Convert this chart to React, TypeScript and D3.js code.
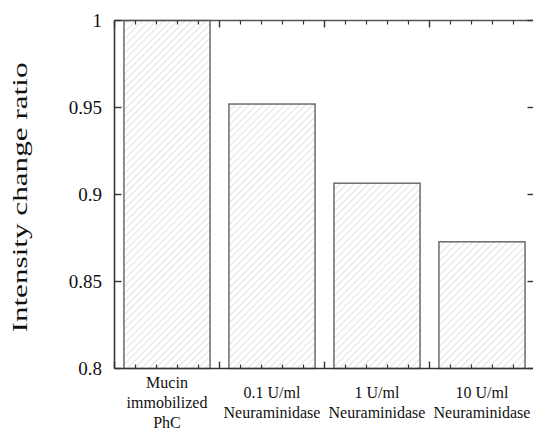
import React from "react";
import * as d3 from "d3";

const categories: string[][] = [
  ["Mucin", "immobilized", "PhC"],
  ["0.1 U/ml", "Neuraminidase"],
  ["1 U/ml", "Neuraminidase"],
  ["10 U/ml", "Neuraminidase"],
];
const values: number[] = [1.0, 0.952, 0.9065, 0.8728];
const yTicks: number[] = [0.8, 0.85, 0.9, 0.95, 1];
const yTickLabels: string[] = ["0.8", "0.85", "0.9", "0.95", "1"];
const yTitle = "Intensity change ratio";

const W = 533;
const H = 432;
const FONT = '"Liberation Serif", "Times New Roman", Times, serif';

export default function App() {
  const x = d3.scaleLinear().domain([0, 4]).range([114.5, 534.5]);
  const y = d3.scaleLinear().domain([0.8, 1]).range([368.5, 20.5]);
  const barW = 0.82;
  const majorX = d3.range(0, 5, 1);
  const minorX = d3.range(0, 4.0001, 0.2).filter((v) => Math.abs(v - Math.round(v)) > 1e-6);
  const axisColor = "#333";
  const txt = { fontFamily: FONT };

  return (
    <svg
      width={W}
      height={H}
      style={{ position: "absolute", left: 0, top: 0, background: "#fff", overflow: "hidden" }}
    >
      <defs>
        <pattern
          id="hatch"
          patternUnits="userSpaceOnUse"
          width={5}
          height={5}
          patternTransform="rotate(45)"
        >
          <line x1={0} y1={0} x2={0} y2={5} stroke="#c4c4c4" strokeWidth={1} />
        </pattern>
      </defs>

      {values.map((v, i) => {
        const x0 = x(i + 0.5 - barW / 2);
        const x1 = x(i + 0.5 + barW / 2);
        return (
          <rect
            key={i}
            x={x0}
            y={y(v)}
            width={x1 - x0}
            height={y(0.8) - y(v)}
            fill="url(#hatch)"
            stroke="#555"
            strokeWidth={1.3}
          />
        );
      })}

      {/* frame */}
      <line x1={x(0)} x2={x(0)} y1={y(0.8)} y2={y(1)} stroke={axisColor} strokeWidth={1.6} />
      <line x1={x(0)} x2={x(4)} y1={y(0.8)} y2={y(0.8)} stroke={axisColor} strokeWidth={1.6} />
      <line x1={x(0)} x2={x(4)} y1={y(1)} y2={y(1)} stroke="#555" strokeWidth={1.6} />

      {/* x ticks */}
      {majorX.map((v) => (
        <g key={"mx" + v}>
          <line x1={x(v)} x2={x(v)} y1={y(0.8)} y2={y(0.8) - 7} stroke={axisColor} strokeWidth={1.4} />
          <line x1={x(v)} x2={x(v)} y1={y(1)} y2={y(1) + 7} stroke={axisColor} strokeWidth={1.4} />
        </g>
      ))}
      {minorX.map((v) => (
        <g key={"nx" + v.toFixed(2)}>
          <line x1={x(v)} x2={x(v)} y1={y(0.8)} y2={y(0.8) - 4} stroke={axisColor} strokeWidth={1.2} />
          <line x1={x(v)} x2={x(v)} y1={y(1)} y2={y(1) + 4} stroke={axisColor} strokeWidth={1.2} />
        </g>
      ))}

      {/* y ticks */}
      {yTicks.map((t, i) => (
        <g key={"y" + t}>
          <line x1={x(0)} x2={x(0) + 7} y1={y(t)} y2={y(t)} stroke={axisColor} strokeWidth={1.4} />
          <line x1={x(4)} x2={x(4) - 7} y1={y(t)} y2={y(t)} stroke={axisColor} strokeWidth={1.4} />
          <text x={102} y={y(t)} dy="0.36em" textAnchor="end" style={txt} fontSize={19} fill="#111">
            {yTickLabels[i]}
          </text>
        </g>
      ))}

      {/* category labels */}
      {categories.map((lines, i) => {
        const cx = x(i + 0.5);
        const lh = 20;
        const start = 402 - ((lines.length - 1) * lh) / 2;
        return (
          <text key={"c" + i} x={cx} textAnchor="middle" style={txt} fontSize={16} fill="#111">
            {lines.map((l, j) => (
              <tspan key={j} x={cx} y={start + j * lh} dy="0.35em">
                {l}
              </tspan>
            ))}
          </text>
        );
      })}

      {/* y title */}
      <text
        transform={`translate(27,${(62 + 333) / 2}) rotate(-90)`}
        textAnchor="middle"
        style={txt}
        fontSize={22}
        textLength={270}
        lengthAdjust="spacingAndGlyphs"
        fill="#111"
      >
        {yTitle}
      </text>
    </svg>
  );
}
